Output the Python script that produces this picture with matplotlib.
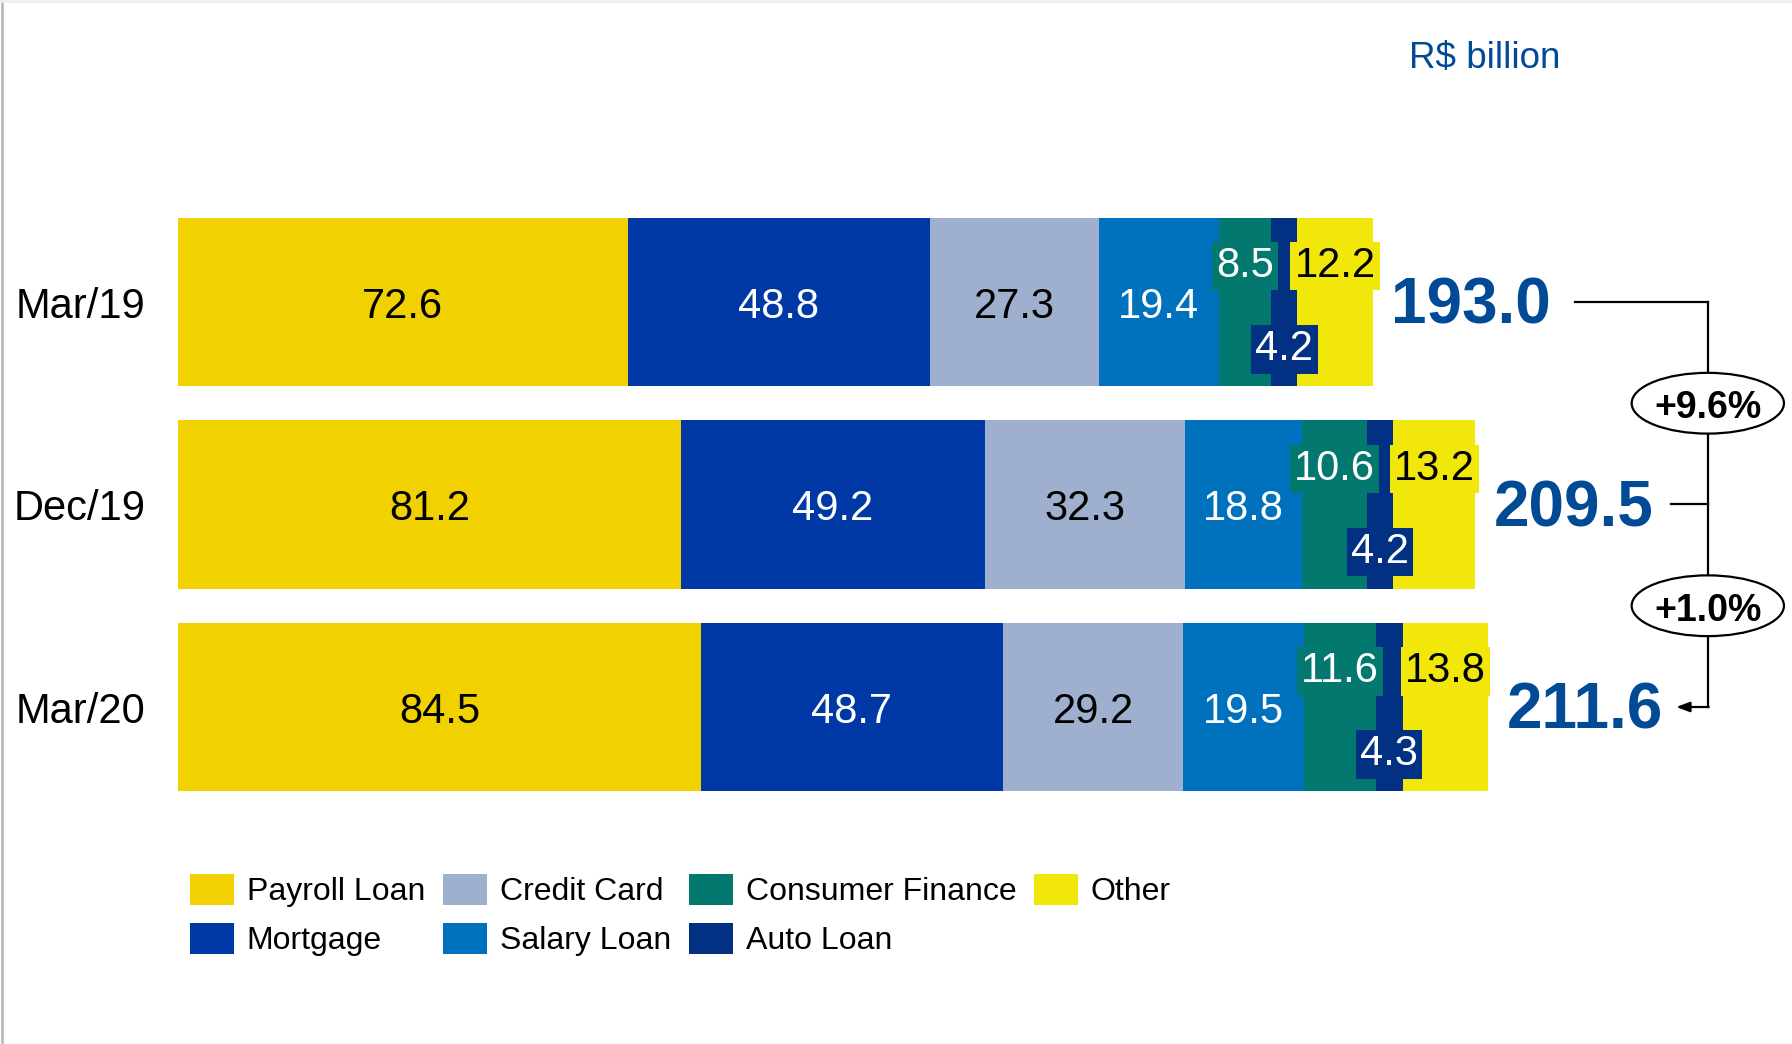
import matplotlib.pyplot as plt
from matplotlib.patches import Ellipse

plt.rcParams['font.family'] = ['Liberation Sans', 'DejaVu Sans']

periods = ["Mar/19", "Dec/19", "Mar/20"]
segments = ["Payroll Loan", "Mortgage", "Credit Card", "Salary Loan",
            "Consumer Finance", "Auto Loan", "Other"]
payroll = [72.6, 81.2, 84.5]
mortgage = [48.8, 49.2, 48.7]
credit_card = [27.3, 32.3, 29.2]
salary = [19.4, 18.8, 19.5]
consumer = [8.5, 10.6, 11.6]
auto = [4.2, 4.2, 4.3]
other = [12.2, 13.2, 13.8]
totals = [193.0, 209.5, 211.6]
growth = ["+9.6%", "+1.0%"]

series = [payroll, mortgage, credit_card, salary, consumer, auto, other]
colors = ["#F2D100", "#0039A6", "#9EB0CE", "#0071BC", "#02786F", "#023083", "#F1E70B"]
text_colors = ["black", "white", "black", "white", "white", "white", "black"]
# vertical shift of the small labels (data units of y)
label_shift = [0, 0, 0, 0, -0.2, 0.21, -0.2]
boxed = [False, False, False, False, True, True, True]

blue_txt = "#004A96"
dy = 0.024  # digits sit a bit high with va='center'

fig = plt.figure(figsize=(17.92, 10.44), dpi=100)
ax = fig.add_axes([0, 0, 1, 1])
ax.set_xlim(-28.76, 260.7)
ax.set_ylim(3.664, -1.491)
ax.axis('off')

y = list(range(len(periods)))
left = [0.0] * len(periods)
for k, vals in enumerate(series):
    ax.barh(y, vals, left=left, height=0.83, color=colors[k], label=segments[k], zorder=2)
    for i, v in enumerate(vals):
        cx = left[i] + v / 2
        kw = {}
        if boxed[k]:
            kw['bbox'] = dict(boxstyle='square,pad=0.1', fc=colors[k], ec='none')
        ax.text(cx, i + label_shift[k] + dy, f"{v:.1f}", ha='center', va='center',
                fontsize=30, color=text_colors[k], zorder=4, **kw)
    left = [left[i] + vals[i] for i in range(len(vals))]

for i, p in enumerate(periods):
    ax.text(-5.2, i + dy, p, ha='right', va='center', fontsize=30, color='black')

for i, t in enumerate(totals):
    ax.text(t + 3.0, i + dy, f"{t:.1f}", ha='left', va='center', fontsize=46,
            fontweight='bold', color=blue_txt)

# connector on the right
xc = 247.1
ax.plot([totals[0] + 32.7, xc], [0, 0], color='black', lw=1.6, zorder=1)
ax.plot([xc, xc], [0, 2], color='black', lw=1.6, zorder=1)
ax.plot([totals[1] + 31.7, xc], [1, 1], color='black', lw=1.6, zorder=1)
ax.annotate('', xy=(totals[2] + 30.4, 2), xytext=(xc + 0.15, 2),
            arrowprops=dict(arrowstyle='-|>,head_length=0.8,head_width=0.3',
                            color='black', lw=1.6, shrinkA=0, shrinkB=0))
for j, g in enumerate(growth):
    ax.add_patch(Ellipse((xc, j + 0.5), 24.6, 0.3, fc='white', ec='black', lw=1.6, zorder=3))
    ax.text(xc, j + 0.5 + dy, g, ha='center', va='center', fontsize=27,
            fontweight='bold', color='black', zorder=4)

fig.text(1485 / 1792, 1 - 59 / 1044, "R$ billion", ha='center', va='center',
         fontsize=26.5, color=blue_txt)

ax.legend(loc='upper left', bbox_to_anchor=(190 / 1792, 1 - 874 / 1044),
          bbox_transform=fig.transFigure, ncol=4, frameon=False,
          fontsize=23, handlelength=1.375, handleheight=1.1,
          handletextpad=0.4, columnspacing=0.56, labelspacing=0.5,
          borderpad=0, borderaxespad=0)

# thin grey frame at left/top edge
fig.add_artist(plt.Line2D([0.001, 0.001], [0, 1], transform=fig.transFigure, color='#BBBBBB', lw=2))
fig.add_artist(plt.Line2D([0, 1], [0.999, 0.999], transform=fig.transFigure, color='#EEEEEE', lw=2))

fig.savefig("out.png", dpi=100)
